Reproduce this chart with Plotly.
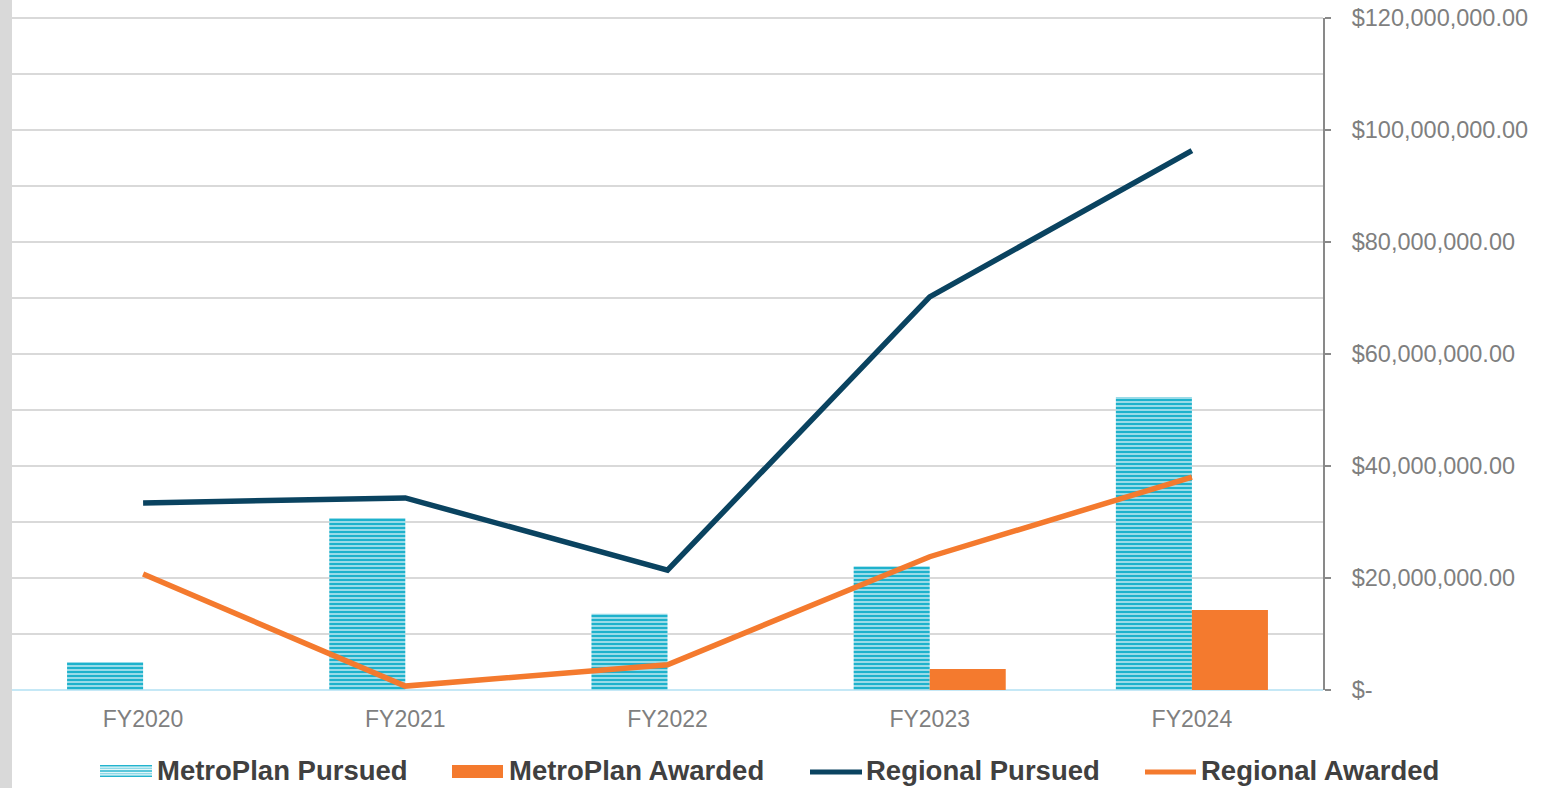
import plotly.graph_objects as go

categories = ["FY2020", "FY2021", "FY2022", "FY2023", "FY2024"]
metroplan_pursued = [5.0e6, 30.7e6, 13.6e6, 22.1e6, 52.3e6]
metroplan_awarded = [0, 0, 0, 3.75e6, 14.3e6]
regional_pursued = [33.4e6, 34.3e6, 21.4e6, 70.2e6, 96.3e6]
regional_awarded = [20.7e6, 0.7e6, 4.5e6, 23.8e6, 38.0e6]

tick_vals = [0, 20e6, 40e6, 60e6, 80e6, 100e6, 120e6]
tick_text = ["$-", "$20,000,000.00", "$40,000,000.00", "$60,000,000.00",
             "$80,000,000.00", "$100,000,000.00", "$120,000,000.00"]

series_names = ["MetroPlan Pursued", "MetroPlan Awarded", "Regional Pursued", "Regional Awarded"]

CYAN = "#22B4CE"
CYAN_LIGHT = "#8ED9E7"
ORANGE = "#F47A2E"
NAVY = "#0A4360"
FONT = "Liberation Sans, Arial, sans-serif"

W, H = 1557, 788
ML, MR, MT, MB = 12, 234, 18, 98
PW = W - ML - MR
PH = H - MT - MB

fig = go.Figure()
fig.add_trace(go.Bar(
    x=categories, y=metroplan_pursued, name=series_names[0],
    marker=dict(color=CYAN, line=dict(width=0),
                pattern=dict(shape="-", size=4, solidity=0.65, fillmode="replace",
                             fgcolor="#1EB2CC", fgopacity=1, bgcolor="#CDEDF4")),
    showlegend=False,
))
fig.add_trace(go.Bar(
    x=categories, y=metroplan_awarded, name=series_names[1],
    marker=dict(color=ORANGE, line=dict(width=0)), showlegend=False,
))
fig.add_trace(go.Scatter(
    x=categories, y=regional_pursued, name=series_names[2],
    mode="lines", line=dict(color=NAVY, width=5.5), showlegend=False,
))
fig.add_trace(go.Scatter(
    x=categories, y=regional_awarded, name=series_names[3],
    mode="lines", line=dict(color=ORANGE, width=5.5), showlegend=False,
))


def px_rect(x0, x1, y0, y1, color):
    # pixel coordinates measured from the top-left corner of the page
    return dict(type="rect", xref="paper", yref="paper",
                xsizemode="pixel", ysizemode="pixel", xanchor=0, yanchor=0,
                x0=x0 - ML, x1=x1 - ML, y0=(H - MB) - y0, y1=(H - MB) - y1,
                fillcolor=color, line=dict(width=0), layer="above")


shapes = [dict(type="rect", xref="paper", yref="paper", xsizemode="pixel", xanchor=0,
               x0=-ML, x1=0, y0=-0.5, y1=1.5, fillcolor="#D9D9D9", line=dict(width=0),
               layer="below"),
          dict(type="line", xref="paper", yref="paper", x0=0, x1=1, y0=1, y1=1,
               line=dict(color="#D9D9D9", width=2), layer="below")]

# legend keys
legend_key_x = [100, 452, 810, 1145]
legend_text_x = [157, 509, 866, 1201]
legend_y = 771
key_w = 52
y = 765
k = 0
while y < 778:
    shapes.append(px_rect(legend_key_x[0], legend_key_x[0] + key_w, y, y + 1.6,
                          CYAN if k % 2 == 0 else CYAN_LIGHT))
    y += 2.6
    k += 1
shapes.append(px_rect(legend_key_x[1], legend_key_x[1] + 51, 765, 778, ORANGE))
shapes.append(px_rect(legend_key_x[2], legend_key_x[2] + key_w, 769.5, 774.5, NAVY))
shapes.append(px_rect(legend_key_x[3], legend_key_x[3] + 51, 769.5, 774.5, ORANGE))

annotations = []
for name, tx in zip(series_names, legend_text_x):
    annotations.append(dict(
        text=name, xref="paper", yref="paper",
        x=(tx - ML - 2) / PW, y=((H - MB) - legend_y) / PH,
        xanchor="left", yanchor="middle", showarrow=False,
        font=dict(family=FONT, size=27.5, color="#404040", weight="bold"),
    ))

fig.update_layout(
    width=W, height=H,
    margin=dict(l=ML, r=MR, t=MT, b=MB, autoexpand=False),
    paper_bgcolor="white", plot_bgcolor="white",
    barmode="group", bargap=0.42, bargroupgap=0,
    font=dict(family=FONT, color="#7F7F7F", size=23),
    showlegend=False,
    xaxis=dict(showgrid=False, showline=False, ticks="", automargin=False,
               tickfont=dict(family=FONT, size=23, color="#7F7F7F"),
               ticklabelstandoff=13),
    yaxis=dict(side="right", range=[0, 120e6], tickvals=tick_vals, ticktext=tick_text,
               automargin=False,
               showgrid=True, gridcolor="#D9D9D9", gridwidth=2,
               minor=dict(dtick=10e6, tick0=0, showgrid=True, gridcolor="#D9D9D9",
                          gridwidth=2, ticks=""),
               zeroline=True, zerolinecolor="#C5E8F6", zerolinewidth=2,
               showline=True, linecolor="#898989", linewidth=2,
               ticks="outside", ticklen=6, tickcolor="#898989", tickwidth=2,
               tickfont=dict(family=FONT, size=23.5, color="#7F7F7F"),
               ticklabelstandoff=16),
    shapes=shapes,
    annotations=annotations,
)

fig.write_html("out.html", config={"displayModeBar": False},
               post_script="document.body.style.margin='0';document.body.style.overflow='hidden';")
